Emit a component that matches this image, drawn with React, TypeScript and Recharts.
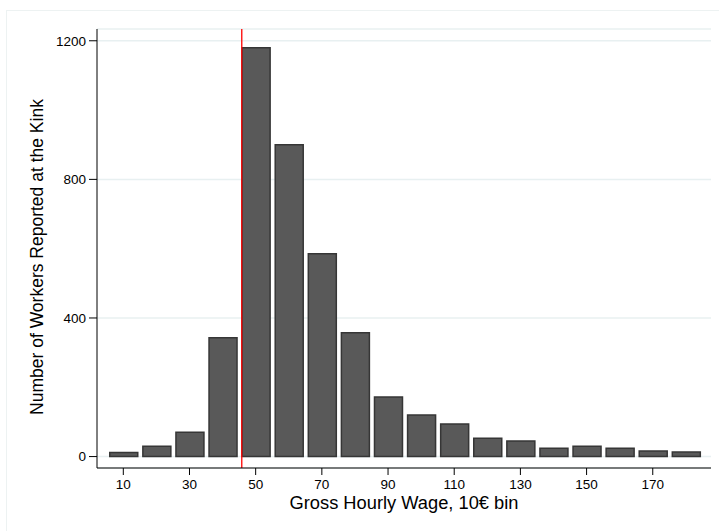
import React from 'react';
import {
    ComposedChart,
    Bar,
    XAxis,
    YAxis,
    CartesianGrid,
    ReferenceLine,
} from 'recharts';

// wage bin centers (10€ bins) and worker counts
const binCenters = [10, 20, 30, 40, 50, 60, 70, 80, 90, 100, 110, 120, 130, 140, 150, 160, 170, 180];
const workerCounts = [12, 30, 70, 343, 1180, 900, 585, 357, 172, 120, 94, 53, 45, 24, 30, 24, 16, 13];

const xTicks = [10, 30, 50, 70, 90, 110, 130, 150, 170];
const yTicks = [0, 400, 800, 1200];
const kinkWage = 45.8;

const FONT = '"Liberation Sans", Arial, sans-serif';

const App: React.FC = () => {
    const data = binCenters.map((bin, i) => ({ bin, count: workerCounts[i] }));

    return (
        <div
            style={{
                position: 'absolute',
                left: 0,
                top: 0,
                width: 719,
                height: 531,
                background: '#fff',
                overflow: 'hidden',
                fontFamily: FONT,
            }}
        >
            {/* faint graph region outline */}
            <div
                style={{
                    position: 'absolute',
                    left: 6,
                    top: 10,
                    width: 720,
                    height: 530,
                    borderTop: '1px solid #edf2f2',
                    borderLeft: '1px solid #edf2f2',
                }}
            />
            <ComposedChart
                width={719}
                height={531}
                data={data}
                margin={{ top: 29, right: 8, bottom: 33, left: 0 }}
                style={{ position: 'absolute', left: 0, top: 0 }}
            >
                <CartesianGrid vertical={false} stroke="#e8f0f1" strokeWidth={1.5} />
                <XAxis
                    dataKey="bin"
                    type="number"
                    domain={[2.05, 187.6]}
                    ticks={xTicks}
                    interval={0}
                    height={30}
                    stroke="#000"
                    tickSize={7}
                    tickMargin={4}
                    tick={{ fill: '#000', fontSize: 13.5, fontFamily: FONT }}
                    allowDataOverflow
                />
                <YAxis
                    type="number"
                    domain={[-33, 1234]}
                    ticks={yTicks}
                    interval={0}
                    width={97}
                    stroke="#000"
                    tickSize={8}
                    tickMargin={3}
                    tick={{ fill: '#000', fontSize: 13.5, fontFamily: FONT }}
                    allowDataOverflow
                />
                <Bar
                    dataKey="count"
                    barSize={28}
                    fill="#595959"
                    stroke="#363636"
                    strokeWidth={1.5}
                    isAnimationActive={false}
                />
                <ReferenceLine x={kinkWage} stroke="#ff0000" strokeWidth={1.3} />
            </ComposedChart>
            <div
                style={{
                    position: 'absolute',
                    left: 404,
                    top: 503,
                    transform: 'translate(-50%, -50%)',
                    fontSize: 18.3,
                    lineHeight: 1,
                    whiteSpace: 'nowrap',
                    color: '#000',
                }}
            >
                Gross Hourly Wage, 10€ bin
            </div>
            <div
                style={{
                    position: 'absolute',
                    left: 38,
                    top: 257,
                    transform: 'translate(-50%, -50%) rotate(-90deg)',
                    fontSize: 17.5,
                    lineHeight: 1,
                    whiteSpace: 'nowrap',
                    color: '#000',
                }}
            >
                Number of Workers Reported at the Kink
            </div>
        </div>
    );
};

export default App;
